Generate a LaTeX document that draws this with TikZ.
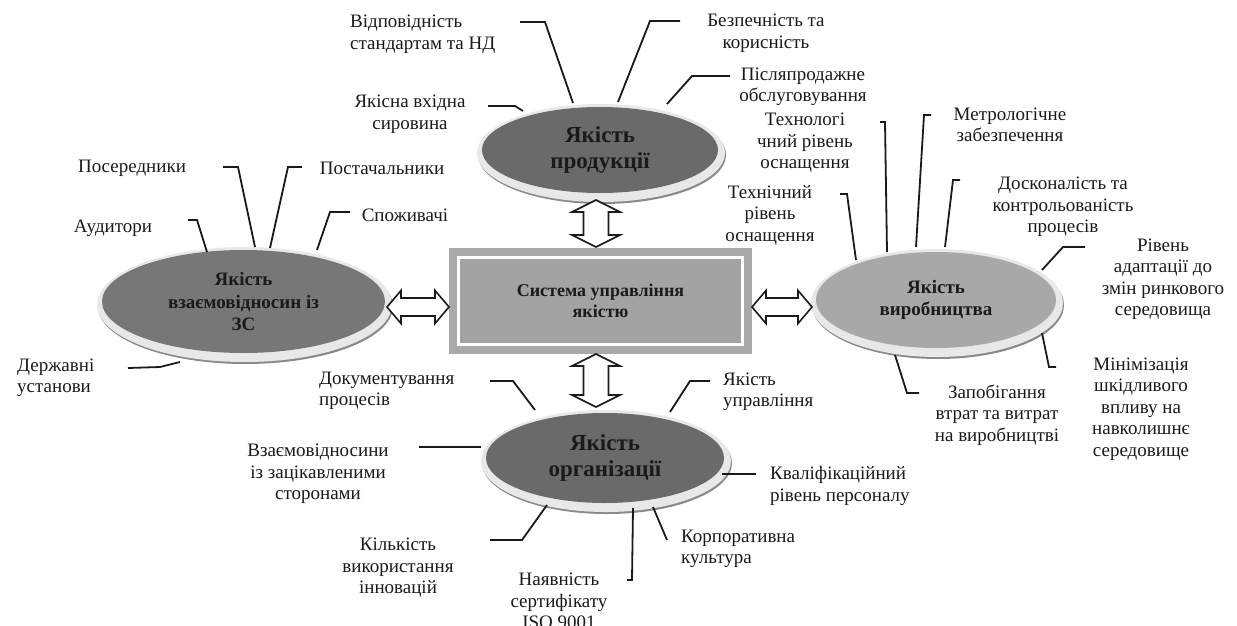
\documentclass[tikz,border=0pt]{standalone}
\usepackage{fontspec}
\setmainfont{Liberation Serif}
\usetikzlibrary{shapes.geometric,backgrounds}

\definecolor{inkc}{HTML}{1A1A1A}
\definecolor{darkell}{HTML}{6A6A6A}
\definecolor{midell}{HTML}{777777}
\definecolor{lightell}{HTML}{A8A8A8}
\definecolor{rimc}{HTML}{E8E8E8}
\definecolor{shadc}{HTML}{8A8A8A}
\definecolor{boxframe}{HTML}{A9A9A9}
\definecolor{boxfill}{HTML}{A3A3A3}

\tikzset{
  lbl/.style={font=\fontsize{19}{21.5}\selectfont, text=inkc, inner sep=0pt, align=center},
  lbll/.style={lbl, align=left},
  lead/.style={draw=inkc, line width=1.8pt, line join=miter},
  bigtitle/.style={font=\fontsize{23}{26}\selectfont\bfseries, text=inkc, align=center},
  smalltitle/.style={font=\fontsize{19}{22.5}\selectfont\bfseries, text=inkc, align=center},
  systext/.style={font=\fontsize{18}{21}\selectfont\bfseries, text=inkc, align=center,
                  minimum width=303pt, minimum height=106pt, inner sep=0pt},
  dbl/.style={draw=inkc, line width=1.6pt, fill=white, line join=miter},
}

% disc: name, cx, cy, rx, ry, fill, style, text
\newcommand\qdisc[8]{%
  \fill[shadc] (#2+2,#3+5) ellipse [x radius=#4+6, y radius=#5+6];
  \fill[rimc] (#2+1,#3+3) ellipse [x radius=#4+6, y radius=#5+6];
  \node[ellipse, fill=#6, minimum width=2*#4, minimum height=2*#5, inner sep=0pt, #7] (#1) at (#2,#3) {#8};
}
% horizontal hollow double arrow: x1, x2, y
\newcommand\hdarrow[3]{%
  \draw[dbl] (#1,#3) -- (#1+14,#3-16.5) -- (#1+14,#3-9) -- (#2-14,#3-9) -- (#2-14,#3-16.5)
    -- (#2,#3) -- (#2-14,#3+16.5) -- (#2-14,#3+9) -- (#1+14,#3+9) -- (#1+14,#3+16.5) -- cycle;
}
% vertical hollow double arrow: x, y1, y2
\newcommand\vdarrow[3]{%
  \draw[dbl] (#1,#2) -- (#1+24,#2+12) -- (#1+12.5,#2+12) -- (#1+12.5,#3-12) -- (#1+24,#3-12)
    -- (#1,#3) -- (#1-24,#3-12) -- (#1-12.5,#3-12) -- (#1-12.5,#2+12) -- (#1-24,#2+12) -- cycle;
}

\begin{document}
\begin{tikzpicture}[x=1pt,y=-1pt]
\useasboundingbox (0,0) rectangle (1237,626);
\begin{scope}[on background layer]
  \fill[white] (0,0) rectangle (1237,626);
\end{scope}

% central box
\node[systext] (sys) at (600.5,301) {Система управління\\якістю};
\begin{scope}[on background layer]
  \fill[boxframe] (sys.north west) rectangle (sys.south east);
  \filldraw[fill=boxfill, draw=white, line width=3pt]
    ([shift={(10,10)}]sys.north west) rectangle ([shift={(-10,-10)}]sys.south east);
\end{scope}

% discs
\qdisc{prod}{600}{150}{118}{43}{darkell}{bigtitle}{Якість\\продукції}
\qdisc{rel}{243.5}{301.5}{141.5}{51.5}{midell}{smalltitle}{Якість\\взаємовідносин із\\ЗС}
\qdisc{man}{936}{300}{120}{48}{lightell}{smalltitle}{Якість\\виробництва}
\qdisc{org}{605}{458}{119}{45}{darkell}{bigtitle}{Якість\\організації}

% double arrows
\hdarrow{387}{449}{307}
\hdarrow{752}{812}{307}
\vdarrow{596}{200}{247}
\vdarrow{596}{354}{407}

% ---- labels: product quality
\node[lbll, anchor=west] (p1) at (350,34) {Відповідність\\стандартам та НД};
\node[lbl] (p2) at (766,33) {Безпечність та\\корисність};
\node[lbl] (p3) at (803,87) {Післяпродажне\\обслуговування};
\node[lbl] (p4) at (410,114) {Якісна вхідна\\сировина};
\draw[lead] (520,22) -- (545,22) -- (573,103);
\draw[lead] (680,21) -- (650,21) -- (618,102);
\draw[lead] (730,76) -- (692,76) -- (667,104);
\draw[lead] (488,106) -- (515,106) -- (523,111);

% ---- labels: relations
\node[lbl] (r1) at (132,168) {Посередники};
\node[lbl] (r2) at (382,168) {Постачальники};
\node[lbl] (r3) at (113,228) {Аудитори};
\node[lbl] (r4) at (405,215) {Споживачі};
\node[lbll, anchor=west] (r5) at (17,378) {Державні\\установи};
\draw[lead] (223,167) -- (238,167) -- (255,247);
\draw[lead] (302,167) -- (288,167) -- (270,248);
\draw[lead] (188,220) -- (197,220) -- (207,252);
\draw[lead] (350,212) -- (330,212) -- (317,250);
\draw[lead] (128,368) -- (160,367) -- (180,362);

% ---- labels: production
\node[lbl] (m1) at (805,143) {Технологі\\чний рівень\\оснащення};
\node[lbl] (m2) at (1010,125) {Метрологічне\\забезпечення};
\node[lbl] (m3) at (1063,207) {Досконалість та\\контрольованість\\процесів};
\node[lbl] (m4) at (770,215) {Технічний\\рівень\\оснащення};
\node[lbl] (m5) at (1163,279) {Рівень\\адаптації до\\змін ринкового\\середовища};
\node[lbl] (m6) at (1141,409) {Мінімізація\\шкідливого\\впливу на\\навколишнє\\середовище};
\node[lbl] (m7) at (997,415) {Запобігання\\втрат та витрат\\на виробництві};
\draw[lead] (880,122) -- (885,122) -- (887,252);
\draw[lead] (931,115) -- (924,115) -- (916,247);
\draw[lead] (960,180) -- (953,180) -- (945,247);
\draw[lead] (840,194) -- (847,194) -- (856,260);
\draw[lead] (1085,247) -- (1063,247) -- (1042,270);
\draw[lead] (1042,333) -- (1049,367) -- (1056,367);
\draw[lead] (895,355) -- (907,393) -- (919,393);

% ---- labels: organisation
\node[lbll, anchor=west] (o1) at (319,391) {Документування\\процесів};
\node[lbll, anchor=west] (o2) at (723,392) {Якість\\управління};
\node[lbl] (o3) at (318,474) {Взаємовідносини\\із зацікавленими\\сторонами};
\node[lbll, anchor=west] (o4) at (770,486) {Кваліфікаційний\\рівень персоналу};
\node[lbll, anchor=west] (o5) at (681,549) {Корпоративна\\культура};
\node[lbl] (o6) at (398,568) {Кількість\\використання\\інновацій};
\node[lbl] (o7) at (559,601) {Наявність\\сертифікату\\ISO 9001};
\draw[lead] (490,381) -- (513,381) -- (535,410);
\draw[lead] (710,381) -- (690,381) -- (670,412);
\draw[lead] (419,447) -- (481,447);
\draw[lead] (722,474) -- (756,474);
\draw[lead] (653,507) -- (667,540);
\draw[lead] (547,505) -- (522,540) -- (490,540);
\draw[lead] (633,508) -- (632,580) -- (627,580);
\end{tikzpicture}
\end{document}
